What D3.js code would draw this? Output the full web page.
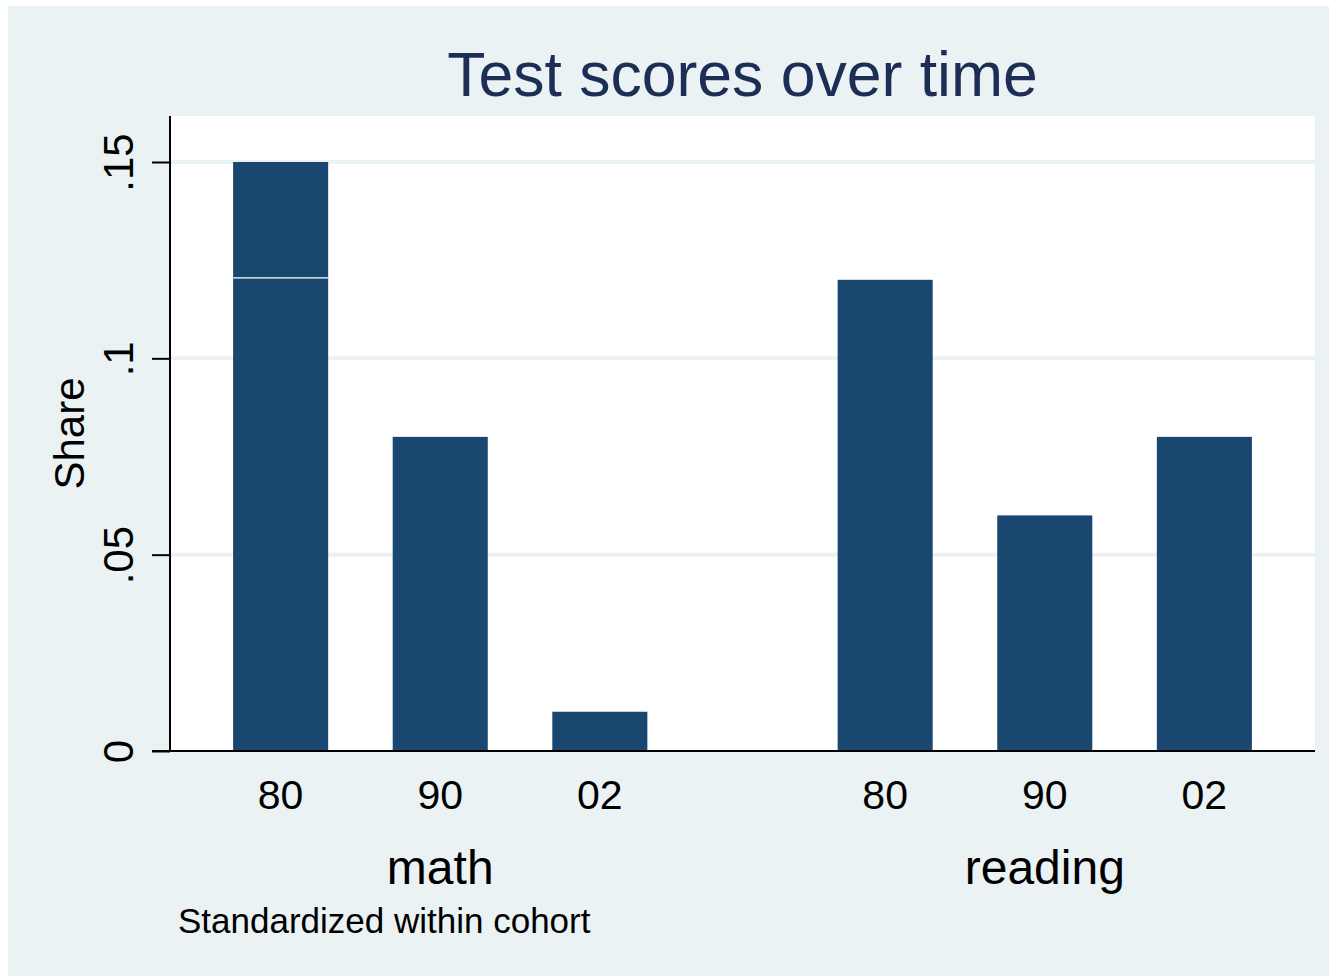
<!DOCTYPE html>
<html>
<head>
<meta charset="utf-8">
<script src="https://cdn.jsdelivr.net/npm/d3@7"></script>
<style>
  body { margin: 0; background: #fff; }
  svg { display: block; font-family: "Liberation Sans", Arial, sans-serif; }
</style>
</head>
<body>
<div id="chart"></div>
<script>
// data
var groups = ["math", "reading"];
var years = ["80", "90", "02"];
var mathValues = [0.15, 0.08, 0.01];
var readingValues = [0.12, 0.06, 0.08];
// thin white split drawn inside the math 80 bar
var mathSplit = [0.1205, null, null];
var yTicks = [0, 0.05, 0.1, 0.15];

var width = 1329, height = 976;
var plot = { left: 170, right: 1315, top: 116, bottom: 751 };
var barColor = "#1a476f";
var bgColor = "#eaf2f3";

var rows = [];
groups.forEach(function(g) {
    var vals = g === "math" ? mathValues : readingValues;
    years.forEach(function(y, i) {
        rows.push({ group: g, year: y, value: vals[i], split: g === "math" ? mathSplit[i] : null });
    });
});

var svg = d3.select("#chart").append("svg")
    .attr("width", width).attr("height", height);

// background + plot region
svg.append("rect").attr("x", 8).attr("y", 6)
    .attr("width", width - 8).attr("height", height - 6).attr("fill", bgColor);
svg.append("rect").attr("x", plot.left).attr("y", plot.top)
    .attr("width", plot.right - plot.left).attr("height", plot.bottom - plot.top)
    .attr("fill", "#fff");

// scales
var yScale = d3.scaleLinear().domain([0, 0.15]).range([plot.bottom, 162]);
var x0 = d3.scaleBand().domain(groups).range([plot.left, plot.right])
    .paddingInner(0.208).paddingOuter(0.051);
var x1 = d3.scaleBand().domain(years).range([0, x0.bandwidth()])
    .paddingInner(0.4044).paddingOuter(0.2022);

// gridlines
svg.append("g").selectAll("line")
    .data(yTicks.filter(function(d) { return d > 0; }))
    .enter().append("line")
    .attr("x1", plot.left).attr("x2", plot.right)
    .attr("y1", function(d) { return yScale(d); })
    .attr("y2", function(d) { return yScale(d); })
    .attr("stroke", bgColor).attr("stroke-width", 4);

// bars
var bars = svg.append("g").selectAll("g")
    .data(rows).enter().append("g")
    .attr("transform", function(d) { return "translate(" + (x0(d.group) + x1(d.year)) + ",0)"; });

bars.append("rect")
    .attr("x", 0)
    .attr("width", x1.bandwidth())
    .attr("y", function(d) { return yScale(d.value); })
    .attr("height", function(d) { return yScale(0) - yScale(d.value); })
    .attr("fill", barColor);

bars.filter(function(d) { return d.split != null; })
    .append("line")
    .attr("x1", 0).attr("x2", x1.bandwidth())
    .attr("y1", function(d) { return yScale(d.split); })
    .attr("y2", function(d) { return yScale(d.split); })
    .attr("stroke", "#fff").attr("stroke-width", 1.2);

// y axis
var yAxis = d3.axisLeft(yScale)
    .tickValues(yTicks)
    .tickSize(18)
    .tickFormat(function(d) { return d === 0 ? "0" : d3.format(".2~f")(d).replace(/^0/, ""); });

var gy = svg.append("g")
    .attr("transform", "translate(" + plot.left + ",0)")
    .call(yAxis);
gy.select(".domain").remove();
gy.selectAll(".tick line").attr("stroke", "#000").attr("stroke-width", 2);
gy.selectAll(".tick text")
    .attr("x", null).attr("dy", null)
    .attr("transform", "translate(-37,0) rotate(-90)")
    .attr("text-anchor", "middle")
    .attr("fill", "#000")
    .attr("font-size", "42px")
    .attr("font-family", "Liberation Sans, Arial, sans-serif");

svg.append("line")
    .attr("x1", plot.left).attr("x2", plot.left)
    .attr("y1", plot.top).attr("y2", plot.bottom)
    .attr("stroke", "#000").attr("stroke-width", 2);
svg.append("line")
    .attr("x1", plot.left - 18).attr("x2", plot.right)
    .attr("y1", plot.bottom).attr("y2", plot.bottom)
    .attr("stroke", "#000").attr("stroke-width", 2);

// x labels
svg.append("g").selectAll("text")
    .data(rows).enter().append("text")
    .attr("x", function(d) { return x0(d.group) + x1(d.year) + x1.bandwidth() / 2; })
    .attr("y", 809)
    .attr("text-anchor", "middle")
    .attr("font-size", "41px")
    .text(function(d) { return d.year; });

svg.append("g").selectAll("text")
    .data(groups).enter().append("text")
    .attr("x", function(d) { return x0(d) + x0.bandwidth() / 2; })
    .attr("y", 884)
    .attr("text-anchor", "middle")
    .attr("font-size", "48px")
    .text(function(d) { return d; });

// titles
svg.append("text")
    .attr("x", (plot.left + plot.right) / 2).attr("y", 96)
    .attr("text-anchor", "middle")
    .attr("font-size", "62.5px")
    .attr("fill", "#1c2d56")
    .text("Test scores over time");

svg.append("text")
    .attr("transform", "translate(84," + (plot.top + plot.bottom) / 2 + ") rotate(-90)")
    .attr("text-anchor", "middle")
    .attr("font-size", "42px")
    .text("Share");

svg.append("text")
    .attr("x", 178).attr("y", 933)
    .attr("font-size", "35px")
    .text("Standardized within cohort");
</script>
</body>
</html>
